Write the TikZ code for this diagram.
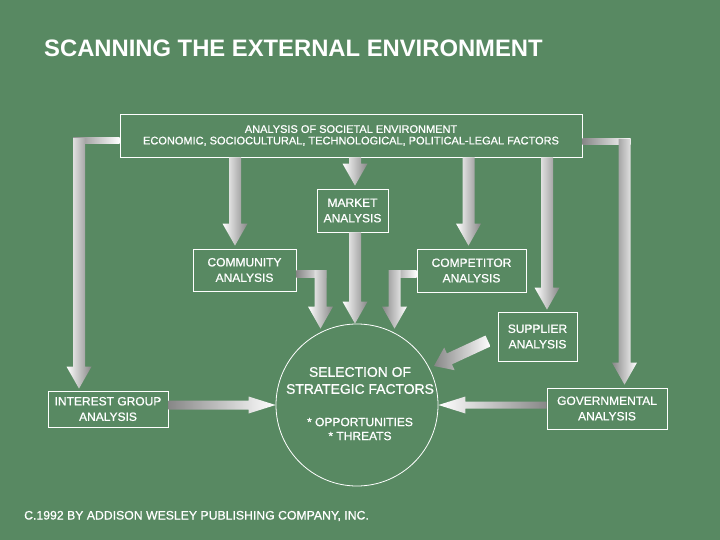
\documentclass[tikz,border=0pt]{standalone}
\usepackage{fontspec}
\setmainfont{Liberation Sans}[FakeBold=0.8]
\newfontfamily\titlefont{Liberation Sans Bold}
\usetikzlibrary{calc}
\definecolor{bg}{RGB}{88,137,98}
\definecolor{dk}{RGB}{135,135,135}
\tikzset{
  box/.style={draw=white, line width=0.8pt, text=white, align=center, inner sep=0pt,
    font=\fontsize{12}{15.5}\selectfont},
  lbl/.style={text=white, inner sep=0pt},
  vshade/.style={left color=white, right color=dk},
  vshadeR/.style={left color=dk, right color=white},
  hbar/.style={left color=dk, right color=white},
  hshadeL/.style={left color=dk, right color=white},
  hshadeR/.style={left color=white, right color=dk},
  sshade/.style={left color=dk, right color=white},
}
% #1 style, #2 half bar, #3 half head, #4 head length, #5 start, #6 tip
\newcommand\fatarrow[6]{%
  \path #5 coordinate (fa-s) #6 coordinate (fa-t);
  \path ($(fa-t)!#4!(fa-s)$) coordinate (fa-b);
  \shade[#1] ($(fa-s)!#2!90:(fa-t)$) -- ($(fa-b)!#2!-90:(fa-s)$) -- ($(fa-b)!#3!-90:(fa-s)$)
    -- (fa-t) -- ($(fa-b)!#3!90:(fa-s)$) -- ($(fa-b)!#2!90:(fa-s)$) -- ($(fa-s)!#2!-90:(fa-t)$) -- cycle;}
\newcommand\varrow[3][vshade]{\fatarrow{#1}{6pt}{12.5pt}{22pt}{#2}{#3}}
\begin{document}
\begin{tikzpicture}[x=1pt,y=-1pt]
\fill[bg] (0,0) rectangle (720,540);
\useasboundingbox (0,0) rectangle (720,540);

% title and credit
\node[lbl, anchor=base west, font=\titlefont\fontsize{23.8}{28}\selectfont] (title) at (44,57) {SCANNING THE EXTERNAL ENVIRONMENT};
\node[lbl, anchor=base west, font=\fontsize{12.25}{14}\selectfont] (credit) at (24,519.5) {C.1992 BY ADDISON WESLEY PUBLISHING COMPANY, INC.};

% boxes
\node[box, minimum width=462, minimum height=43, font=\fontsize{11}{11.5}\selectfont] (top) at (351,135.5)
  {ANALYSIS OF SOCIETAL ENVIRONMENT\\ECONOMIC, SOCIOCULTURAL, TECHNOLOGICAL, POLITICAL-LEGAL FACTORS};
\node[box, minimum width=71, minimum height=43] (market) at (352.5,210.5) {MARKET\\ANALYSIS};
\node[box, minimum width=103, minimum height=42] (community) at (244.5,270) {COMMUNITY\\ANALYSIS};
\node[box, minimum width=109, minimum height=43] (competitor) at (471.5,270.5) {COMPETITOR\\ANALYSIS};
\node[box, minimum width=79, minimum height=49] (supplier) at (537.5,336.5) {SUPPLIER\\ANALYSIS};
\node[box, minimum width=120, minimum height=36] (interest) at (108,409) {INTEREST GROUP\\ANALYSIS};
\node[box, minimum width=120, minimum height=41] (gov) at (607,408.5) {GOVERNMENTAL\\ANALYSIS};

% central circle
\node[draw=white, line width=0.8pt, circle, minimum size=162, inner sep=0pt] (sel) at (357,405) {};
\node[lbl, align=center, font=\fontsize{13.9}{17}\selectfont] (seltitle) at (360,380.5) {SELECTION OF\\STRATEGIC FACTORS};
\node[lbl, align=center, font=\fontsize{12}{14}\selectfont] (selitems) at (360,429) {* OPPORTUNITIES\\* THREATS};

% reference coordinates
\coordinate (Lc) at (79,141);
\coordinate (Rc) at (624.5,142);
\coordinate (cA) at (235,0);
\coordinate (mA) at (355,0);
\coordinate (kA) at (468.5,0);
\coordinate (sA) at (547,0);
\coordinate (cE) at (320.5,273.5);
\coordinate (kE) at (394.5,273.5);
\coordinate (iA) at (0,405);
\coordinate (supTail) at (488,341);
\coordinate (supTip) at (434,366);

% left long connector to interest group
\shade[hbar] ($(Lc)+(-6,-3)$) rectangle ($(top.west|-Lc)+(0,3)$);
\varrow{($(Lc)+(0,-3)$)}{($(interest.north -| Lc)+(0,-2)$)}
% right long connector to governmental
\shade[hbar] ($(top.east|-Rc)+(0,-3)$) rectangle ($(Rc)+(6,3)$);
\varrow[vshadeR]{($(Rc)+(0,-3)$)}{($(gov.north -| Rc)+(0,-3)$)}

% top box to community, market, competitor, supplier
\varrow{(top.south -| cA)}{($(community.north -| cA)+(0,-3)$)}
\varrow{(top.south -| mA)}{($(market.north -| mA)+(0,-3)$)}
\varrow{(top.south -| kA)}{($(competitor.north -| kA)+(0,-3)$)}
\varrow{(top.south -| sA)}{($(supplier.north -| sA)+(0,-2)$)}

% into the circle
\varrow{(market.south -| mA)}{(sel.north -| mA)}
\shade[hbar] ($(community.east|-cE)+(0,-3.5)$) rectangle ($(cE)+(5.5,3.5)$);
\varrow{($(cE)+(0,-3.5)$)}{($(cE |- sel.north)+(0,5)$)}
\shade[hbar] ($(kE)+(-5.5,-3.5)$) rectangle ($(competitor.west|-kE)+(0,3.5)$);
\varrow[vshadeR]{($(kE)+(0,-3.5)$)}{($(kE |- sel.north)+(0,5)$)}
\fatarrow{hshadeL}{4.5pt}{8.5pt}{27pt}{(interest.east |- iA)}{(sel.west |- iA)}
\fatarrow{hshadeR}{3.5pt}{8.5pt}{27pt}{(gov.west |- iA)}{(sel.east |- iA)}
\fatarrow{sshade}{6pt}{12.5pt}{17pt}{(supTail)}{(supTip)}
\end{tikzpicture}
\end{document}
